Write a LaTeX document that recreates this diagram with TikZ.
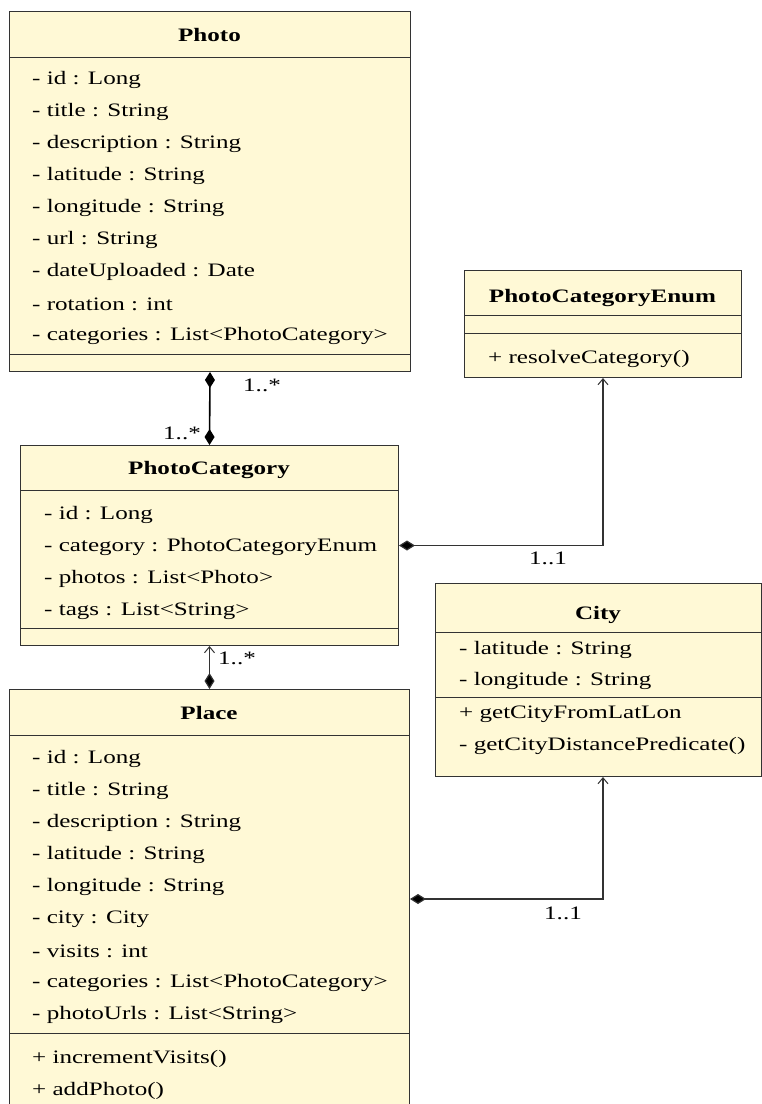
\documentclass[tikz,border=0pt]{standalone}
\usepackage{fontspec}
\setmainfont[FakeStretch=1.32]{Liberation Serif}
\usetikzlibrary{arrows.meta,calc}
\definecolor{boxfill}{HTML}{FFF9D6}
\definecolor{boxline}{HTML}{333333}
\begin{document}
\begin{tikzpicture}[x=1pt,y=-1pt,
  classbox/.style={draw=boxline, fill=boxfill, line width=1pt, anchor=north west, inner sep=0pt},
  sepline/.style={draw=boxline, line width=1pt},
  attr/.style={anchor=west, inner sep=0pt, font=\fontsize{19}{19}\selectfont},
  ctitle/.style={anchor=center, inner sep=0pt, font=\fontsize{19}{19}\selectfont\bfseries},
  lbl/.style={anchor=center, inner sep=0pt, font=\fontsize{19}{19}\selectfont},
  conn/.style={draw=boxline, line width=1.2pt},
  dia/.tip={Diamond[length=16pt,width=10pt,fill=black]},
  barb/.tip={Straight Barb[length=6pt,width=10pt,line width=1pt]}]
\useasboundingbox (0,0) rectangle (762,1104);
\clip (0,0) rectangle (762,1104);

% Photo
\node[classbox, minimum width=401pt, minimum height=360pt] (photo) at (9,11) {};
\draw[sepline] (9,57) -- (410,57);
\draw[sepline] (9,354) -- (410,354);
\node[ctitle] (photo-t) at (209.5,35) {Photo};
\foreach \i/\t in {0/{- id : Long},1/{- title : String},2/{- description : String},3/{- latitude : String},4/{- longitude : String},5/{- url : String},6/{- dateUploaded : Date},7/{- rotation : int},8/{- categories : List<PhotoCategory>}}
  \node[attr] (photo-a\i) at (32,80+32*\i) {\t};

% PhotoCategoryEnum
\node[classbox, minimum width=277pt, minimum height=107pt] (enum) at (464,270) {};
\draw[sepline] (464,315) -- (741,315);
\draw[sepline] (464,333) -- (741,333);
\node[ctitle] (enum-t) at (602.5,298) {PhotoCategoryEnum};
\node[attr] (enum-m0) at (488,359) {+ resolveCategory()};

% PhotoCategory
\node[classbox, minimum width=378pt, minimum height=200pt] (pc) at (20,445) {};
\draw[sepline] (20,490) -- (398,490);
\draw[sepline] (20,628) -- (398,628);
\node[ctitle] (pc-t) at (209,470) {PhotoCategory};
\foreach \i/\t in {0/{- id : Long},1/{- category : PhotoCategoryEnum},2/{- photos : List<Photo>},3/{- tags : List<String>}}
  \node[attr] (pc-a\i) at (44,515+32*\i) {\t};

% City
\node[classbox, minimum width=326pt, minimum height=193pt] (city) at (435,583) {};
\draw[sepline] (435,632) -- (761,632);
\draw[sepline] (435,697) -- (761,697);
\node[ctitle] (city-t) at (598,615) {City};
\node[attr] (city-a0) at (459,650) {- latitude : String};
\node[attr] (city-a1) at (459,681) {- longitude : String};
\node[attr] (city-m0) at (459,714) {+ getCityFromLatLon};
\node[attr] (city-m1) at (459,746) {- getCityDistancePredicate()};

% Place
\node[classbox, minimum width=400pt, minimum height=425pt] (place) at (9,689) {};
\draw[sepline] (9,735) -- (409,735);
\draw[sepline] (9,1033) -- (409,1033);
\node[ctitle] (place-t) at (209,713) {Place};
\foreach \i/\t in {0/{- id : Long},1/{- title : String},2/{- description : String},3/{- latitude : String},4/{- longitude : String},5/{- city : City},6/{- visits : int},7/{- categories : List<PhotoCategory>},8/{- photoUrls : List<String>}}
  \node[attr] (place-a\i) at (32,759+32*\i) {\t};
\node[attr] (place-m0) at (32,1059) {+ incrementVisits()};
\node[attr] (place-m1) at (32,1091) {+ addPhoto()};

% connectors
\draw[conn, draw=black, line width=1.6pt, dia-dia] (photo.south) -- (pc.north);
\node[lbl] (l1) at (262,385) {1..*};
\node[lbl] (l2) at (182,433) {1..*};

\draw[conn, dia-barb] (pc.east) -| (enum.south);
\node[lbl] (l3) at (548,558) {1..1};

\draw[conn, dia-barb] (place.north) -- (pc.south);
\node[lbl] (l4) at (237,658) {1..*};

\coordinate (placeC) at ($(place.north east)+(0,210)$);
\coordinate (cityC) at ($(city.south west)+(168,0)$);
\draw[conn, dia-barb] (placeC) -| (cityC);
\node[lbl] (l5) at (563,913) {1..1};
\end{tikzpicture}
\end{document}
